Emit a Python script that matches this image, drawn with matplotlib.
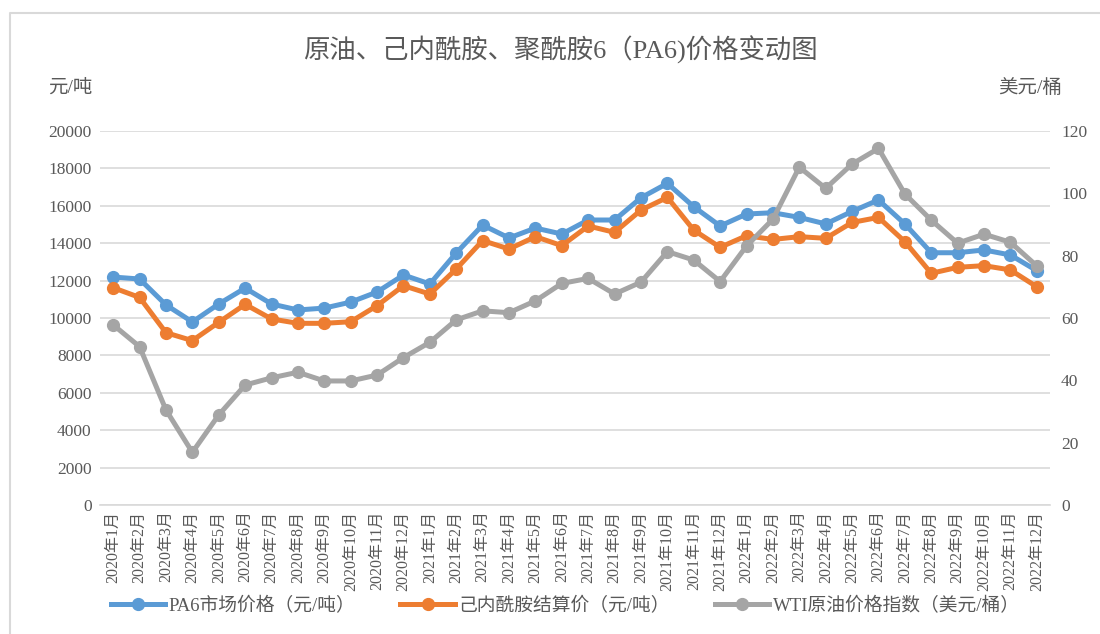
import matplotlib.pyplot as plt
from matplotlib.lines import Line2D

plt.rcParams['font.family'] = ['Liberation Serif', 'Noto Sans CJK SC']

# Months 2020-01 .. 2022-12
months = [f'{y}年{m}月' for y in (2020, 2021, 2022) for m in range(1, 13)]

pa6 = [12190, 12085, 10700, 9790, 10750, 11600, 10750, 10430, 10530, 10850, 11390, 12300,
       11820, 13480, 14970, 14280, 14810, 14490, 15240, 15240, 16430, 17200, 15950, 14920,
       15560, 15630, 15380, 15030, 15700, 16310, 15030, 13490, 13490, 13640, 13370, 12530]
cpl = [11620, 11100, 9215, 8790, 9770, 10730, 9950, 9715, 9715, 9800, 10660, 11730,
       11280, 12620, 14140, 13690, 14350, 13870, 14920, 14580, 15770, 16450, 14700, 13780,
       14400, 14200, 14350, 14260, 15110, 15380, 14080, 12390, 12710, 12800, 12570, 11670]
wti = [57.8, 50.8, 30.5, 16.9, 28.9, 38.5, 40.8, 42.6, 39.8, 39.8, 41.7, 47.3,
       52.2, 59.4, 62.3, 61.7, 65.5, 71.1, 72.7, 67.7, 71.5, 81.3, 78.6, 71.7,
       83.1, 91.7, 108.4, 101.6, 109.4, 114.4, 99.8, 91.4, 84.0, 86.9, 84.3, 76.7]

blue, orange, grey = '#5B9BD5', '#ED7D31', '#A5A5A5'
txt = '#595959'

fig = plt.figure(figsize=(11, 6.34), dpi=100)
# chart frame (top and left edges visible in the crop)
fig.lines.append(Line2D([10 / 1100, 10 / 1100, 1], [0, 1 - 13 / 634, 1 - 13 / 634],
                        transform=fig.transFigure, color='#D9D9D9', lw=1.5))
ax = fig.add_axes([100 / 1100, 1 - 505 / 634, 950 / 1100, 374 / 634])
ax2 = ax.twinx()

x = list(range(len(months)))
l1, = ax.plot(x, pa6, color=blue, lw=3.6, marker='o', ms=8.5, label='PA6市场价格（元/吨）')
l2, = ax.plot(x, cpl, color=orange, lw=3.6, marker='o', ms=8.5, label='己内酰胺结算价（元/吨）')
l3, = ax2.plot(x, wti, color=grey, lw=3.6, marker='o', ms=8.5, label='WTI原油价格指数（美元/桶）')

ax.set_xlim(-0.5, 35.5)
ax.set_ylim(0, 20000)
ax2.set_ylim(0, 120)
ax.set_yticks(range(0, 20001, 2000))
ax2.set_yticks(range(0, 121, 20))
ax.grid(axis='y', color='#D9D9D9', lw=1.2)
ax.set_axisbelow(True)

for a in (ax, ax2):
    for s in a.spines.values():
        s.set_visible(False)
    a.tick_params(length=0, labelsize=12.5, labelcolor=txt)
ax.spines['bottom'].set_visible(True)
ax.spines['bottom'].set_color('#D9D9D9')
ax.spines['bottom'].set_linewidth(1.2)

ax.set_xticks(x)
ax.set_xticklabels(months, rotation=90, fontsize=11.5)
ax.tick_params(axis='x', pad=4)
ax.tick_params(axis='y', pad=6)
ax2.tick_params(axis='y', pad=8)

fig.text(0.509, 1 - 50 / 634, '原油、己内酰胺、聚酰胺6（PA6)价格变动图', ha='center', va='center',
         fontsize=19, color=txt)
fig.text(70 / 1100, 1 - 88 / 634, '元/吨', ha='center', va='center', fontsize=14, color=txt)
fig.text(1030 / 1100, 1 - 88 / 634, '美元/桶', ha='center', va='center', fontsize=14, color=txt)

fig.legend(handles=[l1, l2, l3], loc='center', bbox_to_anchor=(0.514, 1 - 606 / 634), ncol=3,
           frameon=False, fontsize=13.5, labelcolor=txt, handlelength=2.9, columnspacing=2.4,
           handletextpad=0.2)

fig.savefig('out.png', dpi=100)
